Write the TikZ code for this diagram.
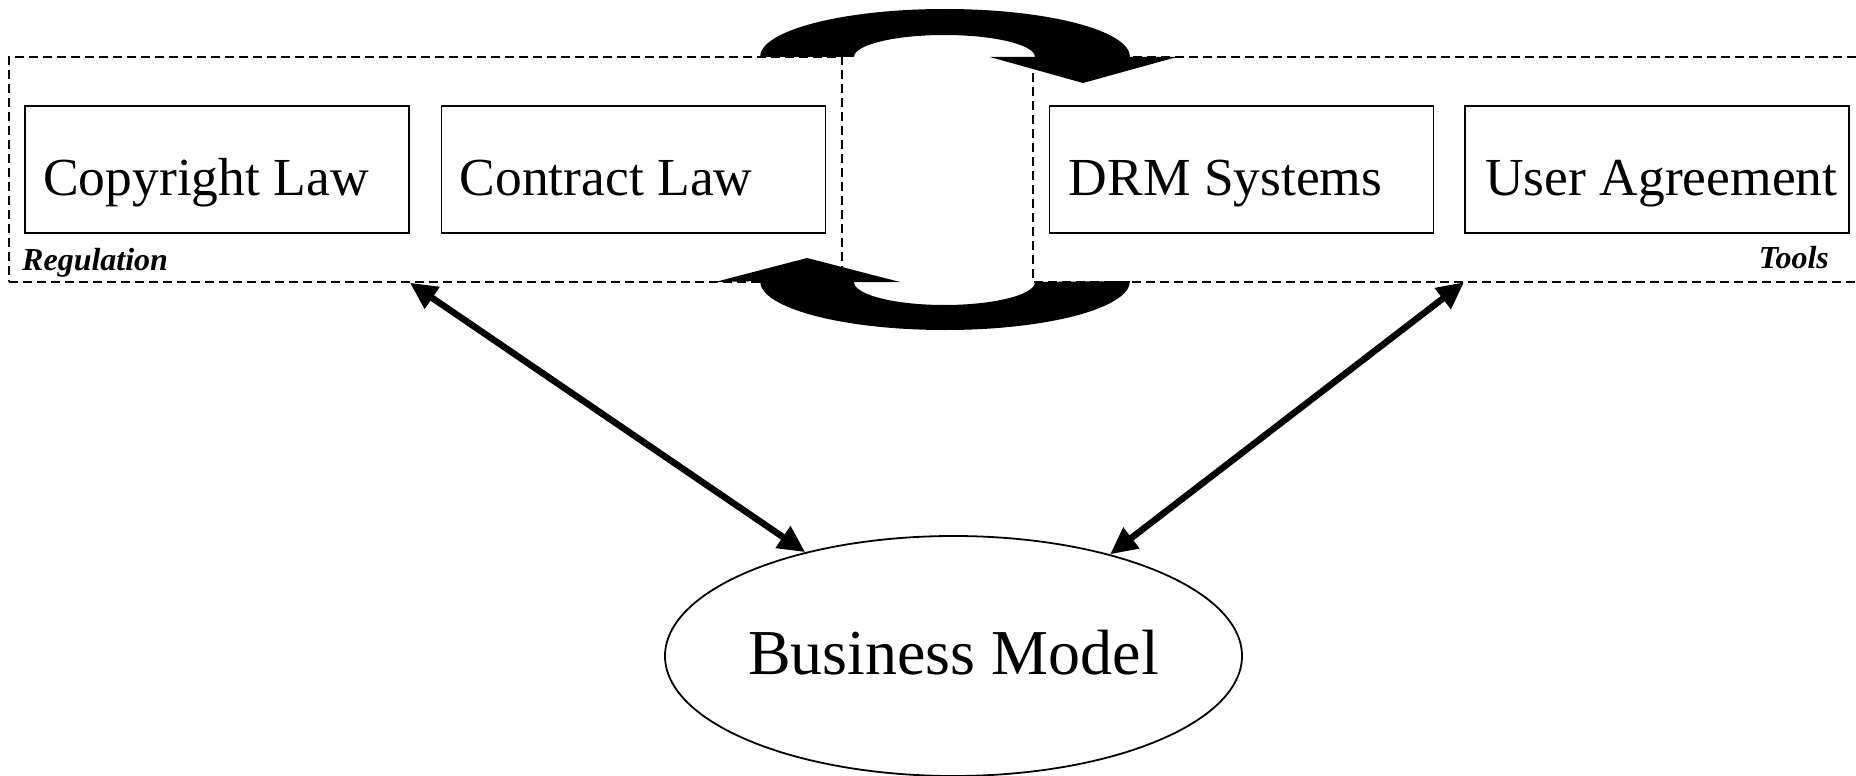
\documentclass[tikz,border=0pt]{standalone}
\usepackage{fontspec}
\setmainfont{Liberation Serif}
\usetikzlibrary{arrows.meta,shapes.geometric}
\tikzset{
  dashline/.style={line width=1.5pt, dash pattern=on 9pt off 5pt},
  boxnode/.style={draw, line width=1.8pt, minimum width=384pt, minimum height=127pt, inner sep=0pt},
  boxtext/.style={anchor=base west, inner sep=0pt, font=\fontsize{53.5}{60}\selectfont},
  grouplabel/.style={inner sep=0pt, font=\fontsize{32}{36}\selectfont\bfseries\itshape},
  biarrow/.style={line width=6.5pt, {Triangle[length=27pt,width=25pt]}-{Triangle[length=27pt,width=25pt]}},
  cyclearrow/.style={fill=black}
}
\begin{document}
\begin{tikzpicture}[x=1pt,y=-1pt]
\useasboundingbox (0,0) rectangle (1856,776);

% group frames
\node[dashline, draw, minimum width=833pt, minimum height=225pt, inner sep=0pt] (reg) at (425.5,169.5) {};
\node[minimum width=823pt, minimum height=225pt, inner sep=0pt] (tools) at (1444.5,169.5) {};
\draw[dashline] (tools.north east) -- (tools.north west) -- (tools.south west) -- (tools.south east);

% boxes
\node[boxnode] (cl) at (217,169.5) {};
\node[boxnode] (ct) at (633.5,169.5) {};
\node[boxnode] (drm) at (1241.5,169.5) {};
\node[boxnode] (ua) at (1657,169.5) {};
\node[boxtext] (clt) at ([xshift=19pt]cl.west |- 0,195) {Copyright Law};
\node[boxtext] (ctt) at ([xshift=19pt]ct.west |- 0,195) {Contract Law};
\node[boxtext] (drmt) at ([xshift=20pt]drm.west |- 0,195) {DRM Systems};
\node[boxtext] (uat) at ([xshift=21pt]ua.west |- 0,195) {User Agreement};

\node[grouplabel, anchor=base west] (regl) at (22,270) {Regulation};
\node[grouplabel, anchor=base east] (toolsl) at (1829,268) {Tools};

% circular arrows
\fill[cyclearrow] (760,57) arc[start angle=180, end angle=0, x radius=185pt, y radius=48pt]
  -- (1177,57) -- (1083,83) -- (990,57) -- (1035,57)
  arc[start angle=0, end angle=180, x radius=90.5pt, y radius=22pt] -- cycle;
\fill[cyclearrow] (1130,281) arc[start angle=0, end angle=-180, x radius=185pt, y radius=49pt]
  -- (715,282) -- (807,258) -- (900,282) -- (854,282)
  arc[start angle=180, end angle=360, x radius=90.5pt, y radius=23pt] -- cycle;

% business model
\node[draw, ellipse, line width=1.8pt, minimum width=577pt, minimum height=240pt, inner sep=0pt] (bm) at (953.5,656) {};
\node[anchor=base, inner sep=0pt, font=\fontsize{64}{70}\selectfont] (bmt) at (953.5,674) {Business Model};

% connectors
\draw[biarrow] (cl.east |- reg.south) -- (bm.145);
\draw[biarrow] (ua.west |- tools.south) -- (bm.33);
\end{tikzpicture}
\end{document}
